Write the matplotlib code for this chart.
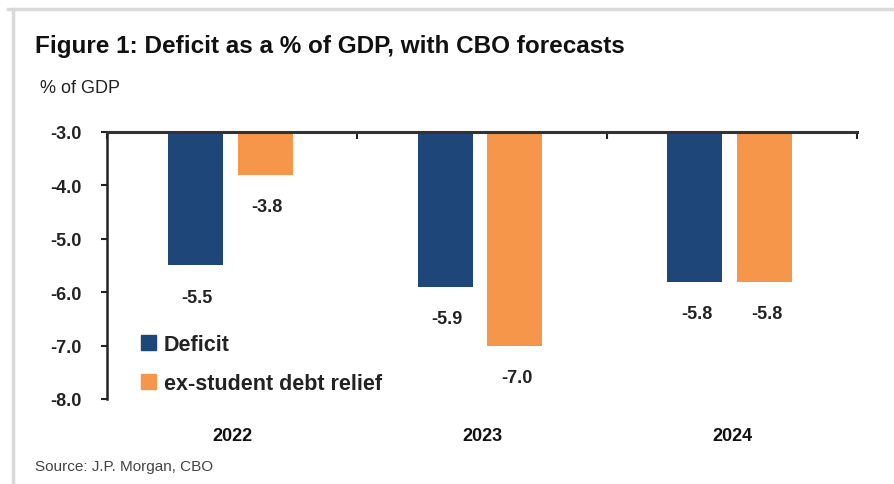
import matplotlib
matplotlib.use("Agg")
import matplotlib.pyplot as plt
from matplotlib.lines import Line2D
from matplotlib.patches import Patch
import numpy as np

categories = ["2022", "2023", "2024"]
deficit = [-5.5, -5.9, -5.8]
ex_student = [-3.8, -7.0, -5.8]
yticks = [-3.0, -4.0, -5.0, -6.0, -7.0, -8.0]
series_names = ["Deficit", "ex-student debt relief"]

plt.rcParams['font.family'] = ['Liberation Sans Narrow', 'Liberation Sans', 'DejaVu Sans']

navy = "#1F4678"
orange = "#F6964A"
baseline = -3.0

fig = plt.figure(figsize=(8.94, 4.85), dpi=100)
ax = fig.add_axes([0.1197, 0.1753, 0.8389, 0.5505])

x = np.arange(len(categories))
w = 0.22
off = 0.14
d = np.array(deficit)
e = np.array(ex_student)
ax.bar(x - off - 0.008, d - baseline, bottom=baseline, width=w, color=navy, label=series_names[0])
ax.bar(x + off - 0.008, e - baseline, bottom=baseline, width=w, color=orange, label=series_names[1])

for xi, v in zip(x - off, d):
    ax.text(xi, v - 0.6, f"{v:.1f}", ha="center", va="center", fontsize=13, fontweight="bold", color="#222222")
for xi, v in zip(x + off, e):
    ax.text(xi, v - 0.6, f"{v:.1f}", ha="center", va="center", fontsize=13, fontweight="bold", color="#222222")

ax.set_xlim(-0.5, 2.5)
ax.set_ylim(-8.0, -3.0)
ax.set_yticks(yticks)
ax.set_yticklabels([f"{t:.1f}" for t in yticks], fontsize=13, fontweight="bold")
ax.tick_params(axis="y", direction="out", length=4, width=1.5, pad=14, colors="#222222")

ax.spines["bottom"].set_visible(False)
ax.spines["right"].set_visible(False)
ax.spines["left"].set_linewidth(1.8)
ax.spines["left"].set_color("#222222")
ax.spines["top"].set_linewidth(2.2)
ax.spines["top"].set_color("#333333")

# category boundary ticks on the top axis
ax.set_xticks([-0.5, 0.5, 1.5, 2.5])
ax.set_xticklabels([])
ax.tick_params(axis="x", top=True, bottom=False, direction="in", length=5, width=1.5, colors="#222222")

# category labels under the plot
for xi, c in zip(x, categories):
    ax.text(xi, -8.68, c, ha="center", va="center", fontsize=13, fontweight="bold", color="#111111")

handles = [Patch(color=navy), Patch(color=orange)]
leg = ax.legend(handles, series_names, loc="lower left", bbox_to_anchor=(0.02, -0.055),
                frameon=False, prop={"size": 15.5, "weight": "bold"},
                handlelength=0.7, handleheight=0.7, handletextpad=0.35, labelspacing=0.85)
for t in leg.get_texts():
    t.set_color("#222222")

fig.text(0.039, 0.905, "Figure 1: Deficit as a % of GDP, with CBO forecasts", fontsize=17.5,
         fontweight="bold", ha="left", va="center", color="#111111")
fig.text(0.045, 0.818, "% of GDP", fontsize=13, ha="left", va="center", color="#222222")
fig.text(0.039, 0.037, "Source: J.P. Morgan, CBO", fontsize=11, ha="left", va="center", color="#444444")

# light frame
fig.add_artist(Line2D([0.009, 1.0], [0.979, 0.979], color="#d9d9d9", lw=2.5))
fig.add_artist(Line2D([0.014, 0.014], [0.0, 0.979], color="#d9d9d9", lw=2.5))

fig.savefig("out.png", dpi=100)
